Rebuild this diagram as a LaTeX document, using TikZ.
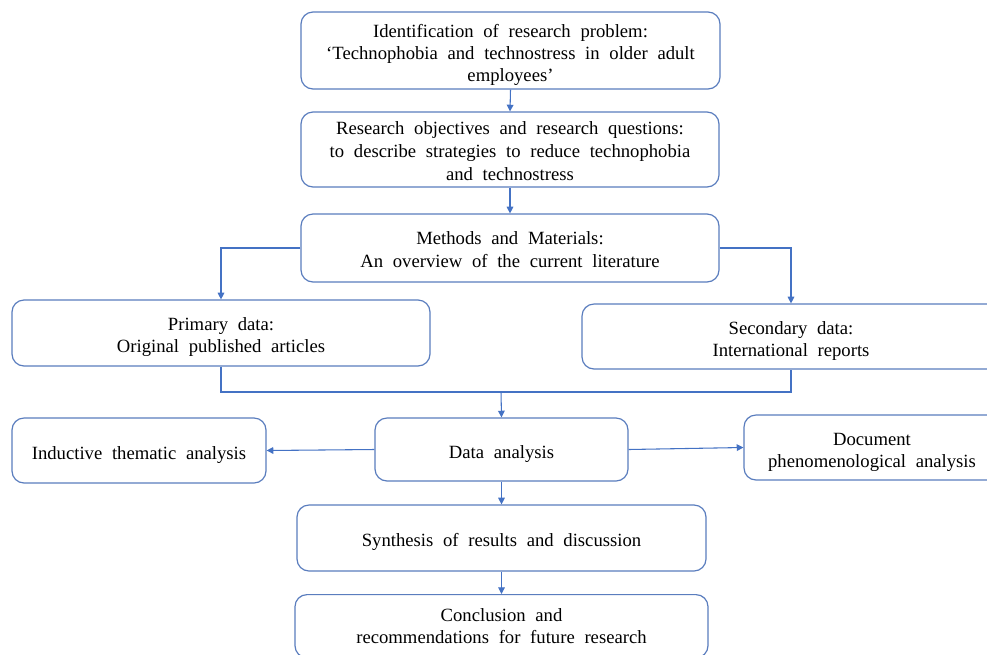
\documentclass[tikz,border=0pt]{standalone}
\usepackage{fontspec}
\setmainfont{Liberation Serif}
\usetikzlibrary{arrows.meta}
\definecolor{boxc}{HTML}{5A7DBE}
\definecolor{linec}{HTML}{4472C4}
\newcommand{\wsp}{\spaceskip=0.52em plus 0.1em\relax}
\newcommand{\topst}{\rule{0pt}{16pt}}
\newcommand{\midst}{\rule{0pt}{12pt}}
\tikzset{
  box/.style={draw=boxc, line width=0.9pt, rounded corners=9pt, align=center, inner sep=0pt,
    font=\fontsize{14}{16.5}\selectfont\wsp, text=black},
  conn/.style={draw=linec, line width=0.8pt},
  arr/.style={conn, -{Triangle[length=5pt,width=5pt]}}
}
\begin{document}
\begin{tikzpicture}[x=0.75pt,y=-0.75pt]
\useasboundingbox (0,0) rectangle (987,654);
\clip (0,0) rectangle (987,654);
\fill[white] (0,0) rectangle (987,654);
\node[box, minimum width=419*0.75pt, minimum height=77*0.75pt] (ident) at (510.5,50.5)
  {\topst Identification of research problem:\\ `Technophobia and technostress in older adult\\ employees'};
\node[box, minimum width=418*0.75pt, minimum height=75*0.75pt] (obj) at (510,149.5)
  {\midst Research objectives and research questions:\\[1pt] to describe strategies to reduce technophobia\\[1pt] and technostress};
\node[box, minimum width=418*0.75pt, minimum height=68*0.75pt] (meth) at (510,248)
  {\midst Methods and Materials:\\[1pt] An overview of the current literature};
\node[box, minimum width=418*0.75pt, minimum height=66*0.75pt] (prim) at (221,333)
  {\topst Primary data:\\ Original published articles};
\node[box, minimum width=418*0.75pt, minimum height=65*0.75pt] (sec) at (791,336.5)
  {\topst Secondary data:\\ International reports};
\node[box, minimum width=254*0.75pt, minimum height=65*0.75pt] (ind) at (139,450.5)
  {\topst Inductive thematic analysis};
\node[box, minimum width=253*0.75pt, minimum height=63*0.75pt] (da) at (501.5,449.5)
  {\topst Data analysis};
\node[box, minimum width=256*0.75pt, minimum height=65*0.75pt] (doc) at (872,447.5)
  {\topst Document\\ phenomenological analysis};
\node[box, minimum width=409*0.75pt, minimum height=66*0.75pt] (syn) at (501.5,538)
  {\topst Synthesis of results and discussion};
\node[box, anchor=north, minimum width=413*0.75pt, inner ysep=10.5pt] (conc) at (501.5,594)
  {Conclusion and\\ recommendations for future research};
\coordinate (join) at (501,392);
\draw[arr] (ident.south) -- (obj.north);
\draw[arr] (obj.south) -- (meth.north);
\draw[arr] (meth.west) -| (prim.north);
\draw[arr] (meth.east) -| (sec.north);
\draw[conn] (prim.south) |- (join) -| (sec.south);
\draw[arr] (join) -- (da.north);
\draw[arr] (da.west) -- (ind.east);
\draw[arr] (da.east) -- (doc.west);
\draw[arr] (da.south) -- (syn.north);
\draw[arr] (syn.south) -- (conc.north);
\end{tikzpicture}
\end{document}
